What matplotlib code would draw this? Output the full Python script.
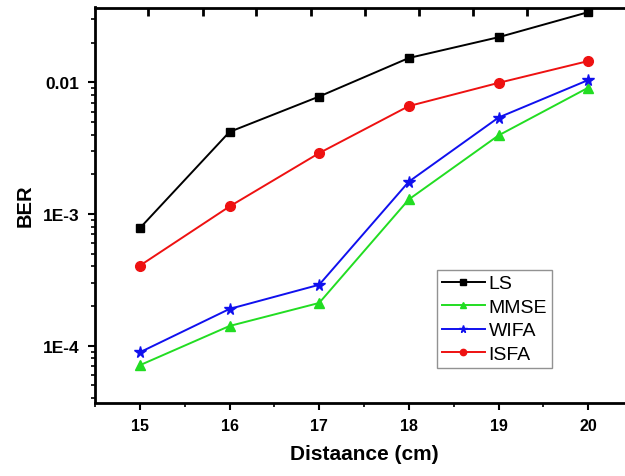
import numpy as np
import matplotlib
matplotlib.use('Agg')
import matplotlib.pyplot as plt
from matplotlib.ticker import LogLocator, NullFormatter

plt.rcParams['font.family'] = ['Liberation Sans', 'DejaVu Sans']

distance = [15, 16, 17, 18, 19, 20]
ber_ls = [7.8e-4, 4.2e-3, 7.8e-3, 0.0153, 0.0220, 0.0341]
ber_mmse = [7.1e-5, 1.41e-4, 2.11e-4, 1.29e-3, 3.95e-3, 9.1e-3]
ber_wifa = [8.9e-5, 1.90e-4, 2.90e-4, 1.76e-3, 5.4e-3, 0.0104]
ber_isfa = [4.05e-4, 1.14e-3, 2.90e-3, 6.6e-3, 9.9e-3, 0.0145]
top_ticks = [15.09, 15.70, 16.30, 16.91, 17.51, 18.11, 18.72, 19.32]

fig = plt.figure(figsize=(6.25, 4.77), dpi=100)
ax = fig.add_axes([95 / 625, 1 - 403.5 / 477, 538 / 625, 395 / 477])

ax.plot(distance, ber_ls, color='black', marker='s', markersize=6, linewidth=1.4, label='LS')
ax.plot(distance, ber_mmse, color='#22dd22', marker='^', markersize=7, linewidth=1.4, label='MMSE')
ax.plot(distance, ber_wifa, color='#1010ee', marker='*', markersize=8.5, linewidth=1.4, label='WIFA')
ax.plot(distance, ber_isfa, color='#ee1111', marker='o', markersize=7, linewidth=1.4, label='ISFA')

ax.set_yscale('log')
ax.set_xlim(14.5, 20.5)
ax.set_ylim(3.7e-5, 0.037)

ax.set_xticks(distance)
ax.set_xticks(np.arange(14.5, 20.6, 0.5), minor=True)
ax.set_yticks([1e-4, 1e-3, 1e-2])
ax.set_yticklabels(['1E-4', '1E-3', '0.01'])
ax.yaxis.set_minor_locator(LogLocator(base=10, subs=np.arange(2, 10)))
ax.yaxis.set_minor_formatter(NullFormatter())

for lbl in ax.get_xticklabels():
    lbl.set_fontweight('bold')
    lbl.set_fontsize(11.5)
for lbl in ax.get_yticklabels():
    lbl.set_fontweight('bold')
    lbl.set_fontsize(12.5)

ax.tick_params(axis='both', which='major', direction='out', length=5, width=1.5, pad=6)
ax.tick_params(axis='both', which='minor', direction='out', length=3, width=1.2)

for side in ['left', 'bottom', 'top', 'right']:
    ax.spines[side].set_linewidth(2)

# mirrored top axis ticks: short inward marks hanging from the top spine
ax.vlines(top_ticks, 0.978, 1.0, transform=ax.get_xaxis_transform(),
          colors='black', linewidth=2, clip_on=False, zorder=5)

ax.set_xlabel('Distaance (cm)', fontsize=15, fontweight='bold', labelpad=8)
ax.set_ylabel('BER', fontsize=14.5, fontweight='bold', labelpad=6)

leg = ax.legend(loc='upper left', bbox_to_anchor=((437 - 95) / 538, 1 - (271 - 8.5) / 395),
                fontsize=14, frameon=True, fancybox=False, edgecolor='#777777',
                handlelength=2.2, handletextpad=0.2, borderpad=0.25, labelspacing=0.3,
                borderaxespad=0, markerscale=0.65)
leg.get_frame().set_linewidth(1)

fig.savefig('out.png', dpi=100)
